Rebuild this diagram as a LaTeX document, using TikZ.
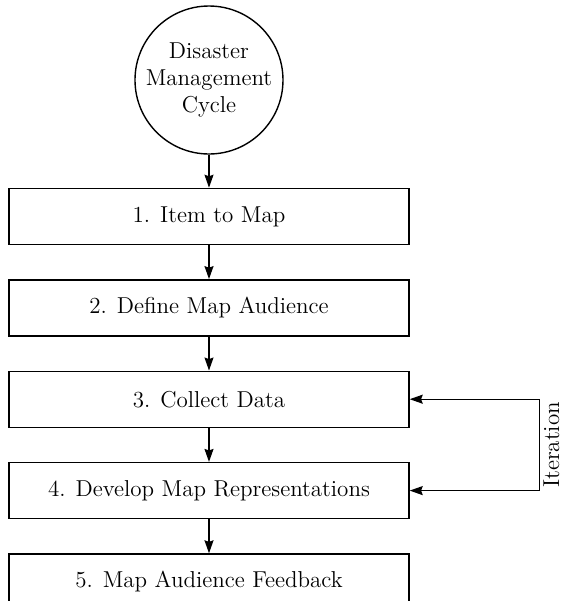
\documentclass[tikz,border=0pt]{standalone}
\usepackage{tikz}
\usetikzlibrary{positioning,arrows.meta}

\begin{document}
\begin{tikzpicture}[
  stepbox/.style={draw,minimum width=200pt,minimum height=28pt,inner sep=0pt,
    font=\fontsize{11.5}{13.5}\selectfont},
  cyc/.style={draw,circle,minimum size=74pt,inner sep=0pt,align=center,
    font=\fontsize{11.5}{13.5}\selectfont},
  ar/.style={-{Stealth[length=6.5pt,width=4.5pt,inset=0.8pt]}},
  every path/.style={line width=0.7pt}, node distance=17pt]
\useasboundingbox (-104.5pt,40pt) rectangle (177.5pt,-260.5pt);
\node[cyc] (dmc) {Disaster\\Management\\Cycle};
\node[stepbox,below=16.5pt of dmc] (s1) {1. Item to Map};
\node[stepbox,below=of s1] (s2) {2. Define Map Audience};
\node[stepbox,below=of s2] (s3) {3. Collect Data};
\node[stepbox,below=of s3] (s4) {4. Develop Map Representations};
\node[stepbox,below=of s4] (s5) {5. Map Audience Feedback};
\foreach \a/\b in {dmc/s1,s1/s2,s2/s3,s3/s4,s4/s5} \draw[ar] (\a)--(\b);
% iteration loop
\coordinate[right=65pt of s3.east] (it3);
\coordinate[right=65pt of s4.east] (it4);
\draw (it3)--node[midway,rotate=90,anchor=north,inner sep=1.5pt,
  font=\fontsize{11.5}{13.5}\selectfont]{Iteration}(it4);
\draw[ar] (it3)--(s3.east); \draw[ar] (it4)--(s4.east);
\end{tikzpicture}
\end{document}
